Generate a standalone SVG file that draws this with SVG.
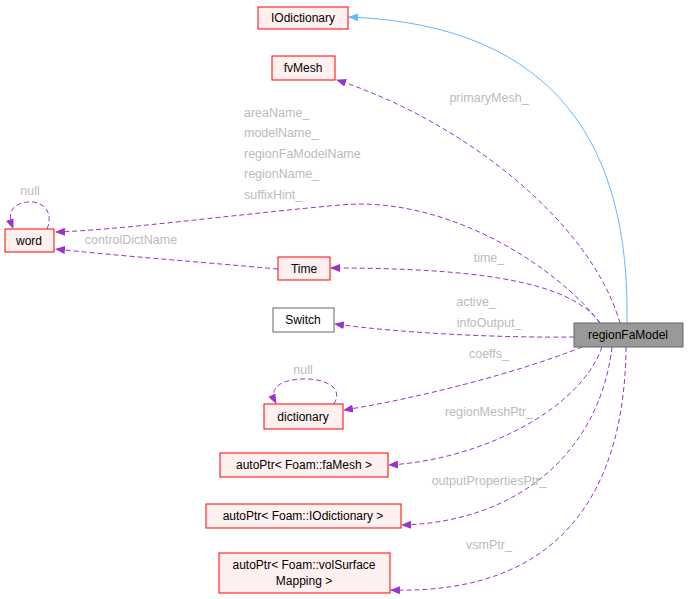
<svg xmlns="http://www.w3.org/2000/svg" width="688" height="599" viewBox="0 0 688 599">
<style>
.n{fill:#fff0f0;stroke:#ff0000;stroke-width:1}
.t{font-family:"Liberation Sans",Arial,sans-serif;font-size:12px;fill:#000;text-anchor:middle}
.l{font-family:"Liberation Sans",Arial,sans-serif;font-size:12.5px;fill:#bbbbbb;text-anchor:middle}
.s{text-anchor:start}
.d{fill:none;stroke:#9a32cd;stroke-dasharray:5,3}
</style>
<defs>
<marker id="p" markerWidth="10" markerHeight="8" refX="9" refY="4" orient="auto" markerUnits="userSpaceOnUse"><path d="M0,0 L10,4 L0,8z" fill="#9a32cd"/></marker>
<marker id="b" markerWidth="10" markerHeight="8" refX="9" refY="4" orient="auto" markerUnits="userSpaceOnUse"><path d="M0,0 L10,4 L0,8z" fill="#63b8ff"/></marker>
</defs>
<rect width="688" height="599" fill="#fff"/>
<g id="edges">
<path d="M627,323 C630,150 560,25 349,17" fill="none" stroke="#63b8ff" marker-end="url(#b)"/>
<path class="d" d="M620,323 C590,220 460,120 337,80" marker-end="url(#p)"/>
<path class="d" d="M600,323 C560,270 450,195 340,205 C230,215 120,230 56,232" marker-end="url(#p)"/>
<path class="d" d="M600,323 C570,280 470,268 331,268" marker-end="url(#p)"/>
<path class="d" d="M574,337 C500,338 400,333 335,324" marker-end="url(#p)"/>
<path class="d" d="M582,347 C520,372 420,398 344,410" marker-end="url(#p)"/>
<path class="d" d="M602,347 C580,410 480,460 389,465" marker-end="url(#p)"/>
<path class="d" d="M612,347 C600,450 520,522 402,525" marker-end="url(#p)"/>
<path class="d" d="M626,347 C625,480 570,595 391,590" marker-end="url(#p)"/>
<path class="d" d="M278,269 C200,262 120,256 56,249" marker-end="url(#p)"/>
<path class="d" d="M47,229 C55,210 40,198 22,203 C10,207 8,215 13,228" marker-end="url(#p)"/>
<path class="d" d="M334,404 C345,385 320,378 302,379 C280,380 268,388 276,403" marker-end="url(#p)"/>
</g>
<g id="labels">
<text class="l" x="489" y="102">primaryMesh_</text>
<text class="l s" x="244" y="117">areaName_</text>
<text class="l s" x="244" y="137">modelName_</text>
<text class="l s" x="244" y="158">regionFaModelName</text>
<text class="l s" x="244" y="178">regionName_</text>
<text class="l s" x="244" y="199">suffixHint_</text>
<text class="l" x="30" y="195">null</text>
<text class="l" x="131" y="244">controlDictName</text>
<text class="l" x="489" y="262">time_</text>
<text class="l" x="476" y="306">active_</text>
<text class="l" x="489" y="327">infoOutput_</text>
<text class="l" x="489" y="358">coeffs_</text>
<text class="l" x="303" y="374">null</text>
<text class="l" x="489" y="416">regionMeshPtr_</text>
<text class="l" x="489" y="485">outputPropertiesPtr_</text>
<text class="l" x="489" y="549">vsmPtr_</text>
</g>
<g id="IOdictionary"><rect class="n" x="258" y="7" width="90" height="22"/><text class="t" x="303" y="22">IOdictionary</text></g>
<g id="fvMesh"><rect class="n" x="272" y="56" width="63" height="24"/><text class="t" x="303" y="72">fvMesh</text></g>
<g id="word"><rect class="n" x="5" y="229" width="49" height="23"/><text class="t" x="29" y="245">word</text></g>
<g id="Time"><rect class="n" x="278" y="257" width="52" height="23"/><text class="t" x="304" y="273">Time</text></g>
<g id="Switch"><rect x="273" y="308" width="61" height="24" fill="#fff" stroke="#666"/><text class="t" x="303" y="324">Switch</text></g>
<g id="regionFaModel"><rect x="574" y="323" width="109" height="24" fill="#999" stroke="#666"/><text class="t" x="628" y="339">regionFaModel</text></g>
<g id="dictionary"><rect class="n" x="264" y="404" width="79" height="25"/><text class="t" x="303" y="421">dictionary</text></g>
<g id="faMesh"><rect class="n" x="220" y="453" width="168" height="24"/><text class="t" x="304" y="469">autoPtr&lt; Foam::faMesh &gt;</text></g>
<g id="IOdictPtr"><rect class="n" x="206" y="504" width="195" height="24"/><text class="t" x="303" y="520">autoPtr&lt; Foam::IOdictionary &gt;</text></g>
<g id="vsm"><rect class="n" x="219" y="553" width="171" height="40"/><text class="t" x="304" y="569">autoPtr&lt; Foam::volSurface</text><text class="t" x="304" y="585">Mapping &gt;</text></g>
</svg>
